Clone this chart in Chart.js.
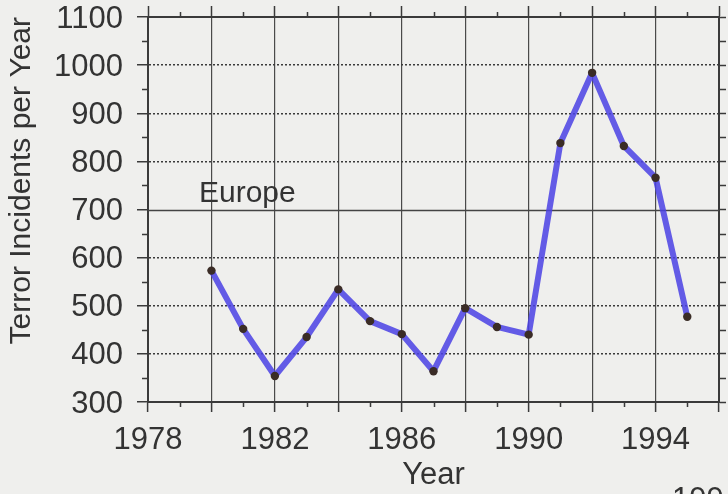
<!DOCTYPE html>
<html>
<head>
<meta charset="utf-8">
<script src="https://cdn.jsdelivr.net/npm/chart.js@4/dist/chart.umd.min.js"></script>
<style>
  html, body { margin: 0; padding: 0; background: #efefed; }
  #wrap { width: 728px; height: 494px; position: relative; }
</style>
</head>
<body>
<div id="wrap"><canvas id="c" width="728" height="494"></canvas></div>
<script>
// ---- data ----
const years = [1980, 1981, 1982, 1983, 1984, 1985, 1986, 1987, 1988, 1989, 1990, 1991, 1992, 1993, 1994, 1995];
const incidents = [573, 452, 354, 435, 534, 468, 441, 364, 495, 456, 440, 838, 984, 832, 766, 477];
const xTickLabels = [1978, 1982, 1986, 1990, 1994];
const yTickLabels = [300, 400, 500, 600, 700, 800, 900, 1000, 1100];
const seriesLabel = 'Europe';
const yTitle = 'Terror Incidents per Year';
const xTitle = 'Year';

const FONT = '"Liberation Sans", Arial, Helvetica, sans-serif';
const INK = '#333333';
const AXIS = '#3a3a3a';

function noPad(s) { s.paddingTop = 0; s.paddingBottom = 0; s.paddingLeft = 0; s.paddingRight = 0; }

const extras = {
  id: 'extras',
  beforeDraw(chart) {
    const { ctx } = chart;
    ctx.save();
    ctx.fillStyle = '#efefed';
    ctx.fillRect(0, 0, chart.width, chart.height);
    ctx.restore();
  },
  beforeDatasetsDraw(chart) {
    const { ctx, chartArea: a, scales } = chart;
    const x = scales.x, y = scales.y;
    ctx.save();
    // solid line at 700
    ctx.strokeStyle = '#444';
    ctx.lineWidth = 1.5;
    const y7 = Math.round(y.getPixelForValue(700)) + 0.5;
    ctx.beginPath(); ctx.moveTo(a.left, y7); ctx.lineTo(a.right, y7); ctx.stroke();
    // minor ticks
    ctx.strokeStyle = AXIS;
    ctx.lineWidth = 1.5;
    for (let yr = 1979; yr < 1996; yr += 2) {
      const px = Math.round(x.getPixelForValue(yr)) + 0.5;
      ctx.beginPath();
      ctx.moveTo(px, a.bottom); ctx.lineTo(px, a.bottom + 5);
      ctx.moveTo(px, a.top); ctx.lineTo(px, a.top - 5);
      ctx.stroke();
    }
    for (let v = 350; v < 1100; v += 100) {
      const py = Math.round(y.getPixelForValue(v)) + 0.5;
      ctx.beginPath();
      ctx.moveTo(a.left, py); ctx.lineTo(a.left - 6, py);
      ctx.moveTo(a.right, py); ctx.lineTo(a.right + 7, py);
      ctx.stroke();
    }
    ctx.restore();
  },
  afterDraw(chart) {
    const { ctx } = chart;
    ctx.save();
    ctx.fillStyle = INK;
    ctx.font = '30px ' + FONT;
    ctx.textBaseline = 'alphabetic';
    ctx.textAlign = 'left';
    ctx.fillText(seriesLabel, 199, 202);
    // cut-off text at the bottom right edge of the reference
    ctx.font = '31px ' + FONT;
    ctx.fillText('199', 672, 509);
    ctx.restore();
  }
};

new Chart(document.getElementById('c'), {
  type: 'line',
  data: {
    datasets: [{
      label: seriesLabel,
      data: years.map((yr, i) => ({ x: yr, y: incidents[i] })),
      borderColor: 'rgba(76, 66, 228, 0.86)',
      borderWidth: 6,
      borderCapStyle: 'round',
      borderJoinStyle: 'round',
      tension: 0,
      pointRadius: 4.2,
      pointHoverRadius: 4.2,
      pointBackgroundColor: '#3a2c26',
      pointBorderWidth: 0
    }]
  },
  options: {
    responsive: false,
    animation: false,
    events: [],
    layout: { padding: 0 },
    plugins: { legend: { display: false }, tooltip: { enabled: false } },
    scales: {
      x: {
        type: 'linear', position: 'bottom', min: 1978, max: 1996,
        afterFit(s) { s.height = 92; noPad(s); },
        ticks: {
          stepSize: 2, autoSkip: false, maxRotation: 0,
          callback: v => xTickLabels.includes(v) ? String(v) : '',
          font: { size: 31, family: FONT }, color: INK, padding: 10
        },
        grid: { color: '#4a4a4a', lineWidth: 1.2, tickLength: 10, tickColor: AXIS, tickWidth: 1.5 },
        border: { display: true, color: AXIS, width: 2 },
        title: { display: true, text: xTitle, font: { size: 31, family: FONT }, color: INK, padding: { top: 0, bottom: 0 } }
      },
      x2: {
        type: 'linear', position: 'top', min: 1978, max: 1996,
        afterFit(s) { s.height = 17; noPad(s); },
        ticks: { display: false, stepSize: 2 },
        grid: { drawOnChartArea: false, tickLength: 11, tickColor: AXIS, tickWidth: 1.5 },
        border: { display: true, color: AXIS, width: 2 }
      },
      y: {
        type: 'linear', position: 'left', min: 300, max: 1100,
        afterFit(s) { s.width = 148; noPad(s); },
        ticks: {
          stepSize: 100, autoSkip: false, labelOffset: 2,
          callback: v => yTickLabels.includes(v) ? String(v) : '',
          font: { size: 31, family: FONT }, color: INK, padding: 14
        },
        grid: {
          color: ctx => (ctx.tick && (ctx.tick.value === 700 || ctx.tick.value === 300 || ctx.tick.value === 1100)) ? 'rgba(0,0,0,0)' : '#3a3a3a',
          lineWidth: 1.5, tickLength: 11, tickColor: AXIS, tickWidth: 1.5
        },
        border: { display: true, color: AXIS, width: 2, dash: [2, 2] },
        title: { display: true, text: yTitle, align: 'end', font: { size: 30, family: FONT }, color: INK, padding: { top: 4, bottom: 0 } }
      },
      y2: {
        type: 'linear', position: 'right', min: 300, max: 1100,
        afterFit(s) { s.width = 9; noPad(s); },
        ticks: { display: false, stepSize: 100 },
        grid: { drawOnChartArea: false, tickLength: 7, tickColor: AXIS, tickWidth: 1.5 },
        border: { display: true, color: AXIS, width: 2 }
      }
    }
  },
  plugins: [extras]
});
</script>
</body>
</html>
